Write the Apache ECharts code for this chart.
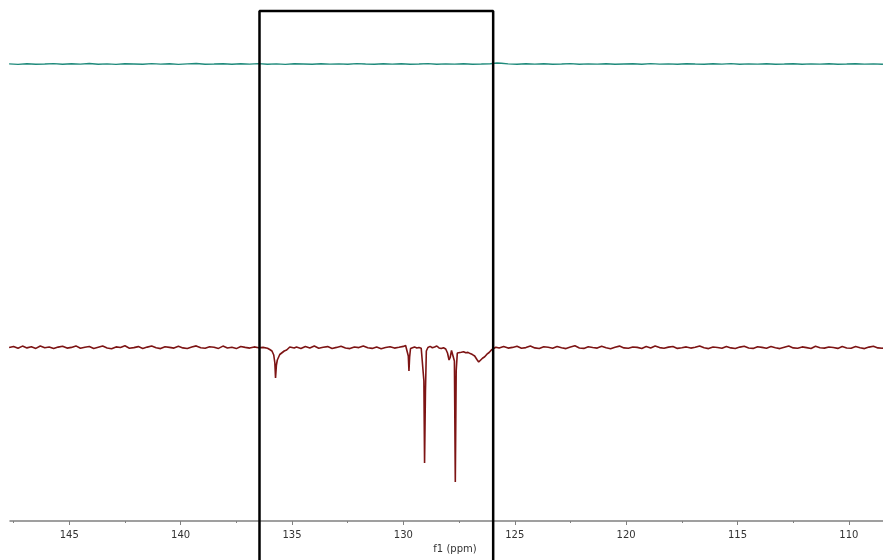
<!DOCTYPE html>
<html>
<head>
<meta charset="utf-8">
<script src="https://cdn.jsdelivr.net/npm/echarts@6/dist/echarts.min.js"></script>
<style>
html,body{margin:0;padding:0;background:#fff;}
#chart{width:883px;height:560px;}
</style>
</head>
<body>
<div id="chart"></div>
<script>
// x axis range (ppm), reversed like an NMR spectrum
const ppmRange = [108.47, 147.66];
const majorTicks = [110, 115, 120, 125, 130, 135, 140, 145];
const minorTicks = [112.5, 117.5, 122.5, 127.5, 132.5, 137.5, 142.5, 147.5];
// highlighted region [left ppm, right ppm, top intensity]
const boxRegion = [136.46, 125.97, 510];

// upper (teal) trace: [ppm, intensity]
const tealSpectrum = [
[147.7,457.1],[147.3,456.6],[146.9,457.3],[146.5,456.8],[146.1,457.0],[145.7,457.4],[145.3,456.7],[144.9,457.2],[144.5,456.9],[144.1,457.5],
[143.7,456.8],[143.3,457.1],[142.9,456.6],[142.5,457.3],[142.1,457.0],[141.7,456.7],[141.3,457.4],[140.9,456.9],[140.5,457.2],[140.1,456.6],
[139.7,457.1],[139.3,457.5],[138.9,456.8],[138.5,457.0],[138.1,457.3],[137.7,456.7],[137.3,457.2],[136.9,456.9],[136.5,457.4],[136.1,456.8],
[135.7,457.1],[135.3,456.6],[134.9,457.2],[134.5,457.0],[134.1,456.7],[133.7,457.3],[133.3,456.9],[132.9,457.1],[132.5,456.8],[132.1,457.4],
[131.7,457.0],[131.3,456.7],[130.9,457.2],[130.5,456.9],[130.1,457.3],[129.7,456.8],[129.3,457.0],[128.9,457.4],[128.5,456.7],[128.1,457.1],
[127.7,456.9],[127.3,457.2],[126.9,456.8],[126.5,457.0],[126.1,457.3],[125.8,458.0],[125.6,457.7],[125.3,457.1],[124.9,456.8],[124.5,457.3],
[124.1,456.9],[123.7,457.2],[123.3,456.7],[122.9,457.0],[122.5,457.4],[122.1,456.8],[121.7,457.1],[121.3,456.9],[120.9,457.3],[120.5,456.7],
[120.1,457.0],[119.7,457.2],[119.3,456.8],[118.9,457.4],[118.5,456.9],[118.1,457.1],[117.7,456.7],[117.3,457.3],[116.9,457.0],[116.5,456.8],
[116.1,457.2],[115.7,456.9],[115.3,457.4],[114.9,456.7],[114.5,457.1],[114.1,456.9],[113.7,457.2],[113.3,456.8],[112.9,457.0],[112.5,457.3],
[112.1,456.7],[111.7,457.1],[111.3,456.9],[110.9,457.2],[110.5,456.8],[110.1,457.0],[109.7,457.3],[109.3,456.9],[108.9,457.1],[108.5,456.8],[108.3,457.0]
];

// lower (dark red) trace: [ppm, intensity]
const redSpectrum = [
[147.7,173.4],[147.5,174.6],[147.3,172.8],[147.1,174.9],[146.9,173.1],[146.7,174.2],[146.5,172.6],[146.3,175.0],[146.1,173.3],[145.9,174.0],
[145.7,172.4],[145.5,173.9],[145.3,174.8],[145.1,172.9],[144.9,173.6],[144.7,175.1],[144.5,172.7],[144.3,173.8],[144.1,174.5],[143.9,172.5],
[143.7,173.7],[143.5,174.9],[143.3,173.0],[143.1,172.3],[142.9,174.1],[142.7,173.5],[142.5,175.2],[142.3,172.8],[142.1,173.4],[141.9,174.4],
[141.7,172.6],[141.5,173.9],[141.3,175.0],[141.1,173.2],[140.9,172.4],[140.7,174.3],[140.5,173.6],[140.3,172.9],[140.1,174.7],[139.9,173.1],
[139.7,172.5],[139.5,174.0],[139.3,175.1],[139.1,173.3],[138.9,172.7],[138.7,174.2],[138.5,173.8],[138.3,172.6],[138.1,174.9],[137.9,173.0],
[137.7,173.7],[137.5,172.4],[137.3,174.5],[137.1,173.6],[136.9,172.9],[136.7,174.1],[136.5,173.2],[136.3,173.6],[136.1,172.8],[136.0,171.5],
[135.9,170.0],[135.82,166.0],[135.77,158.0],[135.74,143.0],[135.70,156.0],[135.66,161.0],[135.62,163.0],[135.55,166.5],[135.47,168.0],[135.35,170.0],
[135.24,171.0],[135.1,174.0],[135.02,175.8],[134.9,173.0],[134.8,173.9],[134.6,172.6],[134.4,174.6],[134.2,173.1],[134.0,175.0],[133.8,172.8],
[133.6,173.7],[133.4,174.4],[133.2,172.5],[133.0,173.6],[132.8,174.8],[132.6,173.0],[132.4,172.4],[132.2,174.0],[132.0,173.4],[131.8,175.1],
[131.6,173.2],[131.4,172.6],[131.2,173.9],[131.0,172.3],[130.8,173.5],[130.6,174.3],[130.4,172.9],[130.2,173.7],[130.0,174.6],[129.9,175.5],
[129.82,174.0],[129.78,165.0],[129.75,150.0],[129.72,164.0],[129.68,172.5],[129.6,173.4],[129.5,174.1],[129.4,173.0],[129.3,173.6],[129.2,172.8],
[129.12,171.5],[129.08,140.0],[129.05,58.0],[129.01,130.0],[128.97,170.0],[128.9,173.5],[128.8,174.6],[128.7,173.2],[128.6,174.0],[128.5,175.0],
[128.4,173.1],[128.3,172.4],[128.2,173.3],[128.1,172.0],[128.02,168.0],[127.95,161.0],[127.90,163.5],[127.84,170.5],[127.76,171.0],[127.71,160.0],
[127.67,39.0],[127.63,150.0],[127.58,168.0],[127.5,169.5],[127.4,168.8],[127.3,169.3],[127.2,168.2],[127.1,168.6],[127.0,167.4],[126.9,166.4],
[126.8,165.0],[126.7,161.5],[126.62,159.0],[126.55,160.5],[126.45,162.8],[126.35,164.2],[126.25,166.8],[126.15,168.5],[126.05,171.0],[125.95,172.5],
[125.85,173.8],[125.7,173.0],[125.5,174.4],[125.3,172.9],[125.1,173.6],[124.9,174.8],[124.7,172.7],[124.5,173.4],[124.3,175.0],[124.1,173.1],
[123.9,172.5],[123.7,174.2],[123.5,173.7],[123.3,172.8],[123.1,174.6],[122.9,173.3],[122.7,172.4],[122.5,173.9],[122.3,175.2],[122.1,173.0],
[121.9,172.6],[121.7,174.3],[121.5,173.5],[121.3,172.9],[121.1,174.7],[120.9,173.2],[120.7,172.3],[120.5,173.8],[120.3,174.9],[120.1,173.1],
[119.9,172.7],[119.7,174.0],[119.5,173.6],[119.3,172.5],[119.1,174.4],[118.9,173.0],[118.7,175.0],[118.5,173.4],[118.3,172.8],[118.1,173.9],
[117.9,174.5],[117.7,172.6],[117.5,173.3],[117.3,174.1],[117.1,172.9],[116.9,173.7],[116.7,175.1],[116.5,173.2],[116.3,172.4],[116.1,174.0],
[115.9,173.5],[115.7,172.7],[115.5,174.6],[115.3,173.1],[115.1,172.5],[114.9,173.9],[114.7,174.8],[114.5,173.0],[114.3,172.6],[114.1,174.2],
[113.9,173.6],[113.7,172.8],[113.5,174.5],[113.3,173.3],[113.1,172.4],[112.9,173.8],[112.7,175.0],[112.5,173.1],[112.3,172.7],[112.1,174.1],
[111.9,173.4],[111.7,172.5],[111.5,174.7],[111.3,173.2],[111.1,172.9],[110.9,174.0],[110.7,173.5],[110.5,172.6],[110.3,174.4],[110.1,173.0],
[109.9,172.8],[109.7,174.6],[109.5,173.3],[109.3,172.4],[109.1,173.9],[108.9,174.8],[108.7,173.1],[108.5,172.7],[108.3,173.8]
];

const chart = echarts.init(document.getElementById('chart'), null, {renderer: 'canvas'});
const labelFont = 'DejaVu Sans';
const boxData = [
  [boxRegion[0], -50], [boxRegion[0], boxRegion[2]],
  [boxRegion[1], boxRegion[2]], [boxRegion[1], -50]
];
chart.setOption({
  backgroundColor: '#ffffff',
  animation: false,
  grid: {left: 10, right: 0, top: 0, bottom: 39, containLabel: false},
  xAxis: [{
    type: 'value', inverse: true, min: ppmRange[0], max: ppmRange[1],
    position: 'bottom',
    name: 'f1 (ppm)', nameLocation: 'middle', nameGap: 17,
    nameTextStyle: {fontFamily: labelFont, fontSize: 10, color: '#333', padding: [0, 0, 0, 17]},
    axisLine: {show: true, lineStyle: {color: '#808080', width: 1.5}},
    axisTick: {show: true, length: 4, customValues: majorTicks, lineStyle: {color: '#808080', width: 1}},
    axisLabel: {show: true, customValues: majorTicks, margin: 9, fontFamily: labelFont, fontSize: 10, color: '#333'},
    splitLine: {show: false}
  }, {
    type: 'value', inverse: true, min: ppmRange[0], max: ppmRange[1],
    position: 'bottom', gridIndex: 0,
    axisLine: {show: false},
    axisTick: {show: true, length: 2, customValues: minorTicks, lineStyle: {color: '#808080', width: 1}},
    axisLabel: {show: false},
    splitLine: {show: false}
  }],
  yAxis: {type: 'value', min: 0, max: 521, show: false, splitLine: {show: false}},
  series: [{
    name: 'upper', type: 'line', data: tealSpectrum, showSymbol: false, symbol: 'none',
    lineStyle: {color: '#1f8a7b', width: 1.4}, z: 3
  }, {
    name: 'lower', type: 'line', data: redSpectrum, showSymbol: false, symbol: 'none',
    lineStyle: {color: '#7d1414', width: 1.6}, z: 3
  }, {
    name: 'region', type: 'line', data: boxData, showSymbol: false, symbol: 'none',
    clip: false, lineStyle: {color: '#000000', width: 2.5}, z: 5
  }]
});
</script>
</body>
</html>
